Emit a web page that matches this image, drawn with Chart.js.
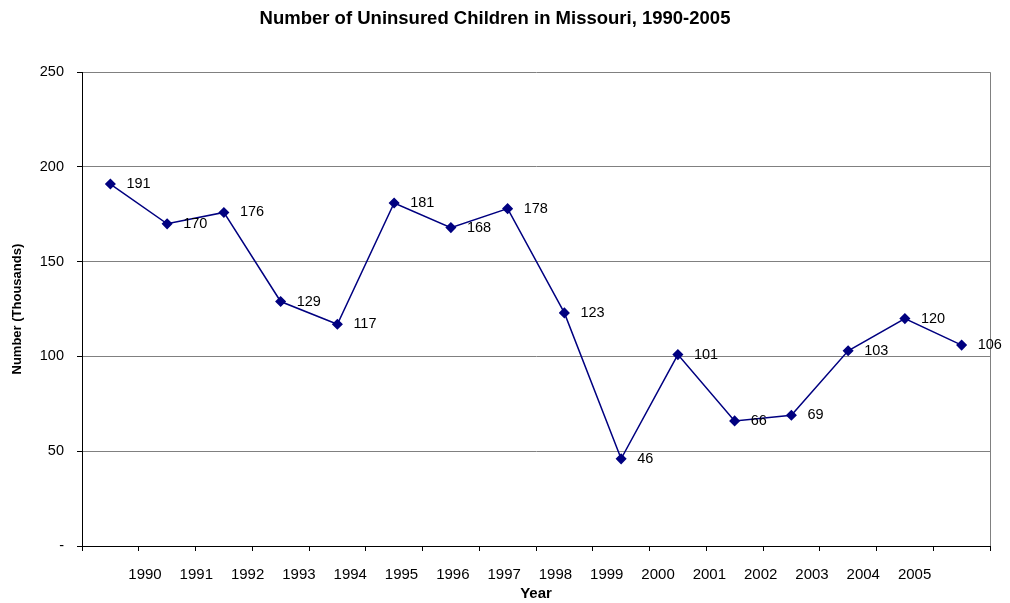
<!DOCTYPE html>
<html>
<head>
<meta charset="utf-8">
<script src="https://cdn.jsdelivr.net/npm/chart.js@4/dist/chart.umd.min.js"></script>
<style>
  html, body { margin: 0; padding: 0; background: #fff; }
  #wrap { width: 1010px; height: 603px; }
</style>
</head>
<body>
<div id="wrap"><canvas id="lineChart"></canvas></div>
<script>
// Data
const years = ['1990', '1991', '1992', '1993', '1994', '1995', '1996', '1997',
               '1998', '1999', '2000', '2001', '2002', '2003', '2004', '2005'];
const uninsured = [191, 170, 176, 129, 117, 181, 168, 178, 123, 46, 101, 66, 69, 103, 120, 106];
const yTicks = [0, 50, 100, 150, 200, 250];

const FONT = "'Liberation Sans', Arial, sans-serif";
Chart.defaults.font.family = FONT;
Chart.defaults.color = '#000';

// Value labels to the right of each point
const pointLabels = {
    id: 'pointLabels',
    afterDatasetsDraw(chart) {
        const ctx = chart.ctx;
        const meta = chart.getDatasetMeta(0);
        ctx.save();
        ctx.font = '14.5px ' + FONT;
        ctx.fillStyle = '#000';
        ctx.textAlign = 'left';
        ctx.textBaseline = 'middle';
        meta.data.forEach((pt, i) => {
            ctx.fillText(String(uninsured[i]), pt.x + 16, pt.y);
        });
        ctx.restore();
    }
};

const ctx = document.getElementById('lineChart').getContext('2d');
const lineChart = new Chart(ctx, {
    type: 'line',
    data: {
        labels: years,
        datasets: [{
            data: uninsured,
            borderColor: '#000080',
            backgroundColor: '#000080',
            borderWidth: 1.5,
            pointStyle: 'rectRot',
            pointRadius: 4.5,
            pointHoverRadius: 4.5,
            tension: 0,
            xAxisID: 'x',
            yAxisID: 'y'
        }]
    },
    options: {
        responsive: true,
        maintainAspectRatio: false,
        animation: false,
        events: [],
        layout: { padding: { left: 0, right: 20, top: 0, bottom: 0 } },
        plugins: {
            legend: { display: false },
            tooltip: { enabled: false },
            title: {
                display: true,
                text: 'Number of Uninsured Children in Missouri, 1990-2005',
                font: { size: 18.5, weight: 'bold' },
                padding: { top: 8, bottom: 42 }
            }
        },
        scales: {
            x: {
                type: 'category',
                position: 'bottom',
                offset: true,
                ticks: { display: false },
                grid: {
                    offset: true,
                    drawTicks: true,
                    tickLength: 5,
                    // only the right-hand edge shows as a gray border
                    color: (c) => c.type !== 'tick' ? '#808080' : 'rgba(0,0,0,0)',
                    tickColor: '#000',
                    lineWidth: 1
                },
                border: { color: '#000', width: 1 },
                afterFit: (s) => { s.height = 5; }
            },
            xl: {
                type: 'linear',
                position: 'bottom',
                min: -1.228,
                max: 16.47,
                afterBuildTicks: (s) => { s.ticks = years.map((y, i) => ({ value: i })); },
                ticks: {
                    font: { size: 15 },
                    padding: 7,
                    autoSkip: false,
                    maxRotation: 0,
                    callback: (v) => years[v] !== undefined ? years[v] : ''
                },
                grid: { display: false },
                border: { display: false },
                title: {
                    display: true,
                    text: 'Year',
                    font: { size: 15, weight: 'bold' },
                    padding: { top: 0, bottom: 0 }
                },
                afterFit: (s) => { s.height = 52; }
            },
            y: {
                type: 'linear',
                min: 0,
                max: 250,
                afterBuildTicks: (s) => { s.ticks = yTicks.map((v) => ({ value: v })); },
                ticks: {
                    font: { size: 14.5 },
                    padding: 13,
                    callback: (v) => v === 0 ? '-' : String(v)
                },
                grid: {
                    color: '#808080',
                    tickColor: '#000',
                    tickLength: 5,
                    lineWidth: 1
                },
                border: { color: '#000', width: 1 },
                title: {
                    display: true,
                    text: 'Number (Thousands)',
                    font: { size: 13, weight: 'bold' },
                    padding: { top: 10, bottom: 0 }
                },
                afterFit: (s) => { s.width = 82; }
            }
        }
    },
    plugins: [pointLabels]
});
</script>
</body>
</html>
